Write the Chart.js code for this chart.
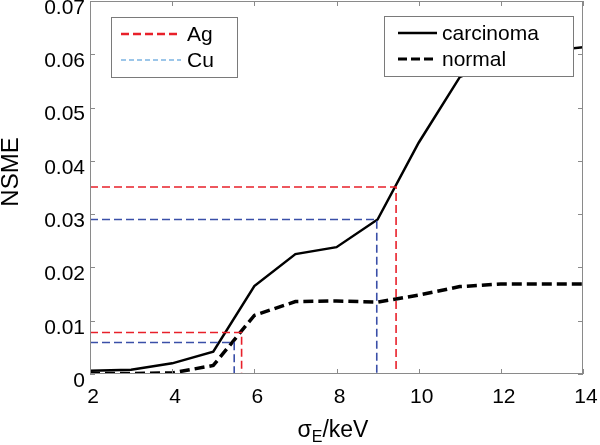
<!DOCTYPE html>
<html>
<head>
<meta charset="utf-8">
<script src="https://cdn.jsdelivr.net/npm/chart.js@4/dist/chart.umd.min.js"></script>
<style>
  html, body { margin: 0; padding: 0; background: #fff; }
  #wrap { width: 600px; height: 445px; }
</style>
</head>
<body>
<div id="wrap"><canvas id="myChart" width="600" height="445"></canvas></div>
<script>
/*---- data ----*/
var sigmaE    = [2, 3, 4, 5, 6, 7, 8, 9, 10, 11, 12, 13, 14];
var carcinoma = [0.0006, 0.0008, 0.002, 0.0042, 0.0165, 0.0225, 0.0238, 0.029, 0.0434, 0.0557, 0.0590, 0.0605, 0.0613];
var normal    = [0.0001, 0.0001, 0.0002, 0.0016, 0.011, 0.0136, 0.0137, 0.0135, 0.0148, 0.0164, 0.0169, 0.0169, 0.0169];
var agX = [5.69, 9.45];
var agY = [0.0078, 0.0351];
var cuX = [5.51, 8.98];
var cuY = [0.0059, 0.029];
var xTicks = [2, 4, 6, 8, 10, 12, 14];
var yTicks = [0, 0.01, 0.02, 0.03, 0.04, 0.05, 0.06, 0.07];
/*---- end of data ----*/

var FONT = "'Liberation Sans', Arial, Helvetica, sans-serif";

function toPoints(xs, ys) {
    var pts = [];
    for (var i = 0; i < xs.length; i++) pts.push({x: xs[i], y: ys[i]});
    return pts;
}

/* builds the L shaped guide lines: from the y axis to the corner, then down to the x axis */
function guideLines(xs, ys) {
    var pts = [];
    for (var i = 0; i < xs.length; i++) {
        if (i > 0) pts.push({x: xs[i], y: null});
        pts.push({x: sigmaE[0], y: ys[i]});
        pts.push({x: xs[i], y: ys[i]});
        pts.push({x: xs[i], y: 0});
    }
    return pts;
}

/*---- frame, inward ticks, the two legend boxes and the axis titles ----*/
var matlabLook = {
    id: 'matlabLook',
    afterDraw: function(chart) {
        var ctx = chart.ctx, a = chart.chartArea;
        var xs = chart.scales.x, ys = chart.scales.y;
        ctx.save();
        ctx.strokeStyle = '#8a8a8a';
        ctx.lineWidth = 1;
        ctx.setLineDash([]);
        ctx.strokeRect(a.left + 0.5, a.top + 0.5, a.right - a.left - 1, a.bottom - a.top - 1);
        ctx.beginPath();
        for (var i = 0; i < xTicks.length; i++) {
            var px = Math.round(xs.getPixelForValue(xTicks[i])) + 0.5;
            ctx.moveTo(px, a.bottom); ctx.lineTo(px, a.bottom - 5);
            ctx.moveTo(px, a.top); ctx.lineTo(px, a.top + 5);
        }
        for (var j = 0; j < yTicks.length; j++) {
            var py = Math.round(ys.getPixelForValue(yTicks[j])) + 0.5;
            ctx.moveTo(a.left, py); ctx.lineTo(a.left + 5, py);
            ctx.moveTo(a.right, py); ctx.lineTo(a.right - 5, py);
        }
        ctx.stroke();

        // legend boxes
        drawLegend(ctx, 111, 17, 126, 60, [
            {text: 'Ag', color: '#e8202a', width: 2.5, dash: [8, 4]},
            {text: 'Cu', color: '#3a8ed4', width: 1.2, dash: [5, 3]}
        ], 10, 60, 76);
        drawLegend(ctx, 384, 16, 189, 60, [
            {text: 'carcinoma', color: '#000', width: 2.5, dash: []},
            {text: 'normal', color: '#000', width: 3, dash: [9, 4]}
        ], 14, 39, 58);

        // y axis title
        ctx.fillStyle = '#000';
        ctx.font = '24px ' + FONT;
        ctx.textAlign = 'center';
        ctx.textBaseline = 'middle';
        ctx.save();
        ctx.translate(10, 172);
        ctx.rotate(-Math.PI / 2);
        ctx.fillText('NSME', 0, 1);
        ctx.restore();

        // x axis title with subscript
        ctx.textBaseline = 'alphabetic';
        ctx.textAlign = 'left';
        var big = '23px ' + FONT, small = '16px ' + FONT;
        ctx.font = big;
        var w1 = ctx.measureText('\u03c3').width;
        var w3 = ctx.measureText('/keV').width;
        ctx.font = small;
        var w2 = ctx.measureText('E').width;
        var x0 = 333 - (w1 + w2 + w3) / 2, base = 437;
        ctx.font = big;
        ctx.fillText('\u03c3', x0, base);
        ctx.font = small;
        ctx.fillText('E', x0 + w1, base + 5);
        ctx.font = big;
        ctx.fillText('/keV', x0 + w1 + w2, base);
        ctx.restore();
    }
};

function drawLegend(ctx, x, y, w, h, items, lineStart, lineLen, textX) {
    ctx.save();
    ctx.fillStyle = '#fff';
    ctx.fillRect(x, y, w, h);
    ctx.strokeStyle = '#7a7a7a';
    ctx.lineWidth = 1;
    ctx.setLineDash([]);
    ctx.strokeRect(x + 0.5, y + 0.5, w, h);
    ctx.font = '21px ' + FONT;
    ctx.textBaseline = 'middle';
    ctx.textAlign = 'left';
    for (var i = 0; i < items.length; i++) {
        var it = items[i];
        var ly = y + 17 + i * 26;
        ctx.strokeStyle = it.color;
        ctx.lineWidth = it.width;
        ctx.setLineDash(it.dash);
        ctx.beginPath();
        ctx.moveTo(x + lineStart, ly);
        ctx.lineTo(x + lineStart + lineLen, ly);
        ctx.stroke();
        ctx.fillStyle = '#000';
        ctx.fillText(it.text, x + textX, ly + 1);
    }
    ctx.restore();
}

var ctx = document.getElementById('myChart').getContext('2d');
var myChart = new Chart(ctx, {
    type: 'line',
    data: {
        datasets: [{
            label: 'Ag',
            data: guideLines(agX, agY),
            borderColor: '#e8202a',
            borderWidth: 1.6,
            borderDash: [8, 4],
            pointRadius: 0,
            spanGaps: false,
            tension: 0
        }, {
            label: 'Cu',
            data: guideLines(cuX, cuY),
            borderColor: '#3a4fa8',
            borderWidth: 1.6,
            borderDash: [8, 4],
            pointRadius: 0,
            spanGaps: false,
            tension: 0
        }, {
            label: 'normal',
            data: toPoints(sigmaE, normal),
            borderColor: '#000',
            borderWidth: 3.5,
            borderDash: [10, 5],
            pointRadius: 0,
            tension: 0
        }, {
            label: 'carcinoma',
            data: toPoints(sigmaE, carcinoma),
            borderColor: '#000',
            borderWidth: 2.5,
            pointRadius: 0,
            tension: 0
        }]
    },
    options: {
        responsive: false,
        animation: false,
        layout: { padding: { top: 1, right: 17, left: 0, bottom: 0 } },
        plugins: {
            legend: { display: false },
            tooltip: { enabled: false }
        },
        scales: {
            x: {
                type: 'linear',
                min: 2, max: 14,
                afterBuildTicks: function(scale) {
                    scale.ticks = xTicks.map(function(v) { return {value: v}; });
                },
                afterFit: function(scale) {
                    scale.height = 71;
                    scale.paddingLeft = 0;
                    scale.paddingRight = 0;
                },
                grid: { display: false, drawTicks: false },
                border: { display: false },
                ticks: {
                    color: '#000',
                    font: { family: FONT, size: 21 },
                    padding: 11,
                    labelOffset: 3,
                    maxRotation: 0,
                    autoSkip: false
                }
            },
            y: {
                min: 0, max: 0.07,
                afterBuildTicks: function(scale) {
                    scale.ticks = yTicks.map(function(v) { return {value: v}; });
                },
                afterFit: function(scale) {
                    scale.width = 90;
                    scale.paddingTop = 0;
                    scale.paddingBottom = 0;
                },
                grid: { display: false, drawTicks: false },
                border: { display: false },
                ticks: {
                    color: '#000',
                    font: { family: FONT, size: 21 },
                    padding: 5,
                    labelOffset: 7,
                    autoSkip: false,
                    callback: function(v) { return v === 0 ? '0' : v.toFixed(2); }
                }
            }
        }
    },
    plugins: [matlabLook]
});
</script>
</body>
</html>
